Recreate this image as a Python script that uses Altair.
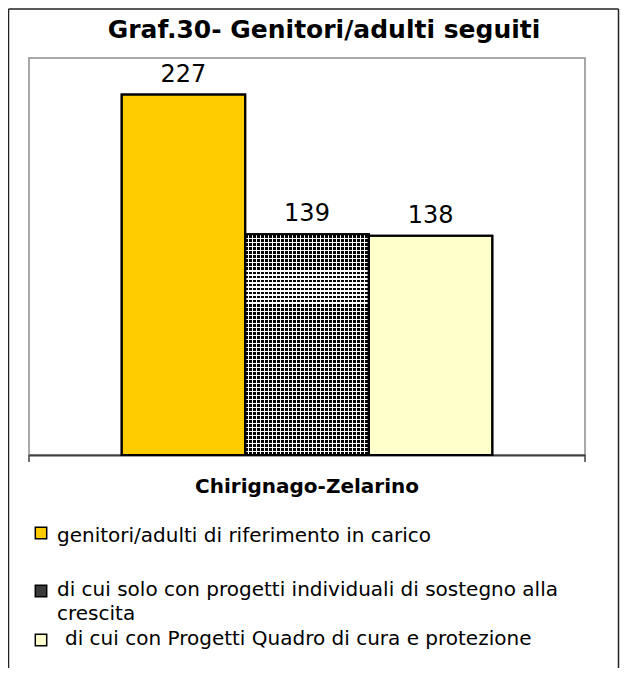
import altair as alt
import pandas as pd

# ---- data ----
title_text = "Graf.30- Genitori/adulti seguiti"
category = "Chirignago-Zelarino"
series = [
    "genitori/adulti di riferimento in carico",
    "di cui solo con progetti individuali di sostegno alla crescita",
    "di cui con Progetti Quadro di cura e protezione",
]
values = [227, 139, 138]
legend_labels = [
    "genitori/adulti di riferimento in carico",
    "di cui solo con progetti individuali di sostegno alla\ncrescita",
    "di cui con Progetti Quadro di cura e protezione",
]
colors = ["#FFCC00", "#3a3a3a", "#FFFFCC"]

df = pd.DataFrame({"series": series, "value": values, "legend": legend_labels})

FONT = "DejaVu Sans"
W, H = 556, 397


def stripes(n, frac, on, off, vertical):
    stops = []
    for k in range(n):
        a, b, c = k / n, (k + frac) / n, (k + 1) / n
        stops += [
            alt.GradientStop(color=on, offset=a),
            alt.GradientStop(color=on, offset=b),
            alt.GradientStop(color=off, offset=b),
            alt.GradientStop(color=off, offset=c),
        ]
    if vertical:
        return alt.LinearGradient(gradient="linear", stops=stops, x1=0, x2=1, y1=0, y2=0)
    return alt.LinearGradient(gradient="linear", stops=stops, x1=0, x2=0, y1=0, y2=1)


x = alt.X(
    "series:N",
    sort=series,
    scale=alt.Scale(domain=series, paddingInner=0, paddingOuter=0.75),
    axis=alt.Axis(labels=False, ticks=False, title=None, grid=False,
                  domainColor="#404040", domainWidth=2),
)
y = alt.Y("value:Q", scale=alt.Scale(domain=[0, 250]), axis=None)
color = alt.Color("series:N", scale=alt.Scale(domain=series, range=colors), legend=None)

base = alt.Chart(df)
bars = base.mark_bar(stroke="black", strokeWidth=2).encode(x=x, y=y, color=color)

pat = base.transform_filter(alt.datum.series == series[1])
pat_white = pat.mark_bar(fill="white").encode(x=x, y=y)
pat_cols = pat.mark_bar(fill=stripes(31, 0.72, "black", "rgba(0,0,0,0)", True)).encode(x=x, y=y)
pat_rows = pat.mark_bar(fill=stripes(55, 0.28, "white", "rgba(255,255,255,0)", False)).encode(x=x, y=y)
outline = base.mark_bar(filled=False, stroke="black", strokeWidth=2).encode(x=x, y=y)

labels = base.mark_text(baseline="alphabetic", dy=-13, fontSize=24, font=FONT, color="black").encode(
    x=x, y=y, text="value:Q"
)

one = alt.Data(values=[{}])
layers = [bars, pat_white, pat_cols, pat_rows, outline, labels]

# axis end ticks
for xv in (0, W):
    layers.append(alt.Chart(one).mark_rule(color="#404040", strokeWidth=1.5).encode(
        x=alt.value(xv), y=alt.value(H), y2=alt.value(H + 7)))

# outer border
BL, BR, BT, BB = -20.5, 589.5, -49, 612
layers.append(alt.Chart(one).mark_rule(color="#222222", strokeWidth=1.5).encode(
    x=alt.value(BL), y=alt.value(BT), y2=alt.value(BB)))
layers.append(alt.Chart(one).mark_rule(color="#222222", strokeWidth=1.5).encode(
    x=alt.value(BR), y=alt.value(BT), y2=alt.value(BB)))
layers.append(alt.Chart(one).mark_rule(color="#222222", strokeWidth=1.5).encode(
    x=alt.value(BL), x2=alt.value(BR), y=alt.value(BT)))

# title
layers.append(alt.Chart(one).mark_text(
    text=title_text, font=FONT, fontWeight="bold", fontSize=25, align="center", baseline="alphabetic"
).encode(x=alt.value(295), y=alt.value(-20)))

# category label
layers.append(alt.Chart(one).mark_text(
    text=category, font=FONT, fontWeight="bold", fontSize=20, align="center", baseline="alphabetic"
).encode(x=alt.value(W / 2), y=alt.value(435)))

# legend
sym_y = [475, 533, 582]
txt_y = [484, 538, 587]
txt_x = [28, 28, 36]
for i, s in enumerate(series):
    row = base.transform_filter(alt.datum.series == s)
    layers.append(row.mark_square(size=130, stroke="black", strokeWidth=1.5, opacity=1).encode(
        x=alt.value(12), y=alt.value(sym_y[i]), color=color))
    layers.append(row.mark_text(
        align="left", baseline="alphabetic", font=FONT, fontSize=20, lineBreak="\n", lineHeight=24,
        color="black"
    ).encode(x=alt.value(txt_x[i]), y=alt.value(txt_y[i]), text="legend:N"))

chart = alt.layer(*layers).properties(
    width=W,
    height=H,
    padding={"left": 21, "top": 50, "right": 35, "bottom": 213},
    autosize=alt.AutoSizeParams(type="none"),
    background="white",
).configure_view(stroke="#8c8c8c", strokeWidth=1.5)

chart.save("out.html", embed_options={"renderer": "svg", "actions": False})
